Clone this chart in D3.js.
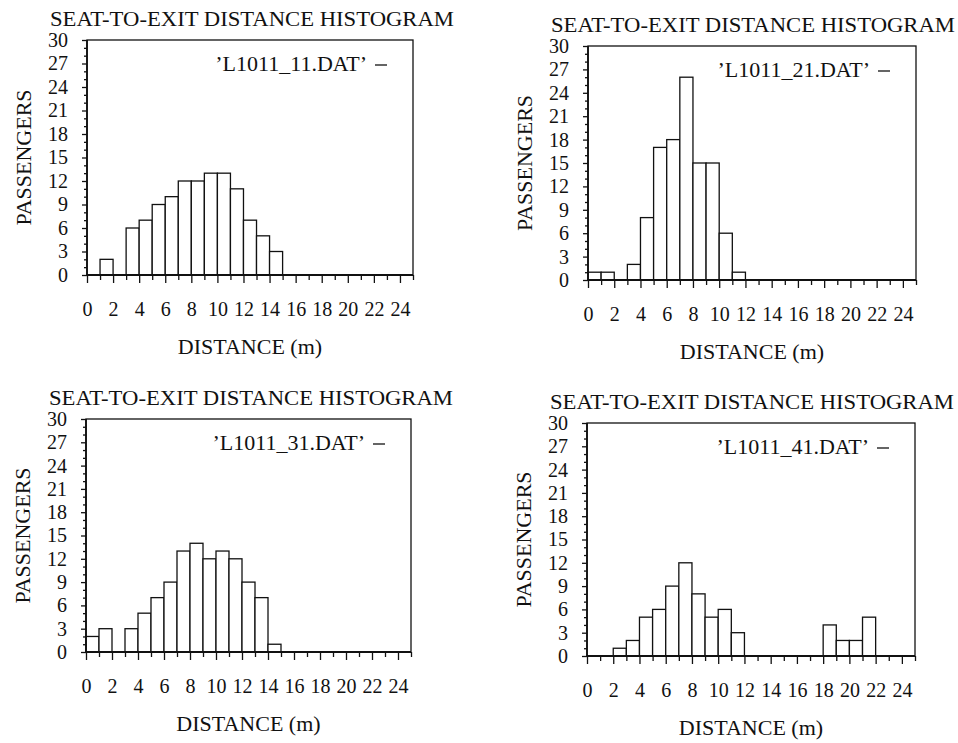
<!DOCTYPE html>
<html>
<head>
<meta charset="utf-8">
<script src="https://cdn.jsdelivr.net/npm/d3@7"></script>
<style>
body { margin: 0; background: #fff; }
svg { display: block; }
text { font-family: "Liberation Serif", "DejaVu Serif", "Times New Roman", serif; fill: #111; }
</style>
</head>
<body>
<svg id="chart" width="958" height="743"></svg>
<script>
// data (1 m bins starting at each value)
var binStart = [0,1,2,3,4,5,6,7,8,9,10,11,12,13,14,15,16,17,18,19,20,21,22,23,24];
var counts11 = [0,2,0,6,7,9,10,12,12,13,13,11,7,5,3,0,0,0,0,0,0,0,0,0,0];
var counts21 = [1,1,0,2,8,17,18,26,15,15,6,1,0,0,0,0,0,0,0,0,0,0,0,0,0];
var counts31 = [2,3,0,3,5,7,9,13,14,12,13,12,9,7,1,0,0,0,0,0,0,0,0,0,0];
var counts41 = [0,0,1,2,5,6,9,12,8,5,6,3,0,0,0,0,0,0,4,2,2,5,0,0,0];
var fileNames = ["L1011_11.DAT", "L1011_21.DAT", "L1011_31.DAT", "L1011_41.DAT"];

var yTicks = [0,3,6,9,12,15,18,21,24,27,30];
var yMinor = [1,2,4,5,7,8,10,11,13,14,16,17,19,20,22,23,25,26,28,29];
var xTicks = [0,2,4,6,8,10,12,14,16,18,20,22,24];
var xMinor = [1,3,5,7,9,11,13,15,17,19,21,23,25];

var title = "SEAT-TO-EXIT DISTANCE HISTOGRAM";
var xLabel = "DISTANCE (m)";
var yLabel = "PASSENGERS";

// plot boxes of the 4 panels (pixels)
var panels = [
	{left: 87, top: 40, right: 413, bottom: 275},
	{left: 588, top: 46, right: 916, bottom: 280},
	{left: 86, top: 419, right: 411, bottom: 652},
	{left: 587, top: 423, right: 915, bottom: 656}
];
var allCounts = [counts11, counts21, counts31, counts41];

var svg = d3.select("#chart");
var ink = "#111";

function drawPanel(p, counts, name) {
	var xs = d3.scaleLinear().domain([0,25]).range([p.left,p.right]);
	var ys = d3.scaleLinear().domain([0,30]).range([p.bottom,p.top]);
	var g = svg.append("g");

	// bars
	var bars = binStart.map(function(b,i) {return {start: b, count: counts[i]};})
		.filter(function(d) {return d.count > 0;});
	g.selectAll("rect.bar").data(bars).enter().append("rect")
		.attr("class","bar")
		.attr("x",function(d) {return xs(d.start);})
		.attr("y",function(d) {return ys(d.count);})
		.attr("width",function(d) {return xs(d.start+1) - xs(d.start);})
		.attr("height",function(d) {return ys(0) - ys(d.count);})
		.attr("fill","#fff")
		.attr("stroke",ink)
		.attr("stroke-width",1.3);

	// frame
	g.append("rect")
		.attr("x",p.left).attr("y",p.top)
		.attr("width",p.right-p.left).attr("height",p.bottom-p.top)
		.attr("fill","none").attr("stroke",ink).attr("stroke-width",1.3);
	g.append("line")
		.attr("x1",p.left).attr("x2",p.right).attr("y1",p.bottom).attr("y2",p.bottom)
		.attr("stroke",ink).attr("stroke-width",1.8);
	g.append("line")
		.attr("x1",p.left).attr("x2",p.left).attr("y1",p.top).attr("y2",p.bottom)
		.attr("stroke",ink).attr("stroke-width",1.8);

	// y axis: minor then major
	var ym = g.append("g").attr("transform","translate("+p.left+",0)")
		.call(d3.axisLeft(ys).tickValues(yMinor).tickSize(3).tickFormat(""));
	var yM = g.append("g").attr("transform","translate("+p.left+",0)")
		.call(d3.axisLeft(ys).tickValues(yTicks).tickSize(5).tickPadding(14));
	// x axis
	var xm = g.append("g").attr("transform","translate(0,"+p.bottom+")")
		.call(d3.axisBottom(xs).tickValues(xMinor).tickSize(5).tickFormat(""));
	var xM = g.append("g").attr("transform","translate(0,"+p.bottom+")")
		.call(d3.axisBottom(xs).tickValues(xTicks).tickSize(8).tickPadding(19));
	[ym,yM,xm,xM].forEach(function(a) {
		a.select(".domain").remove();
		a.attr("font-size",20).attr("color",ink);
		a.selectAll("line").attr("stroke-width",1.3);
	});

	// title
	g.append("text")
		.attr("x",p.left-37)
		.attr("y",p.top-14)
		.attr("font-size","22px")
		.attr("textLength",404)
		.attr("lengthAdjust","spacingAndGlyphs")
		.text(title);

	// axis labels
	g.append("text")
		.attr("x",(p.left+p.right)/2)
		.attr("y",p.bottom+79)
		.attr("text-anchor","middle")
		.attr("font-size","22px")
		.text(xLabel);
	g.append("text")
		.attr("transform","translate("+(p.left-56)+","+((p.top+p.bottom)/2)+") rotate(-90)")
		.attr("text-anchor","middle")
		.attr("font-size","22px")
		.text(yLabel);

	// key
	g.append("text")
		.attr("x",p.right-46)
		.attr("y",p.top+31)
		.attr("text-anchor","end")
		.attr("font-size","22px")
		.text("\u2019" + name + "\u2019");
	g.append("line")
		.attr("x1",p.right-38).attr("x2",p.right-26)
		.attr("y1",p.top+25).attr("y2",p.top+25)
		.attr("stroke",ink).attr("stroke-width",1.3);
}

panels.forEach(function(p,i) {
	drawPanel(p, allCounts[i], fileNames[i]);
});
</script>
</body>
</html>
